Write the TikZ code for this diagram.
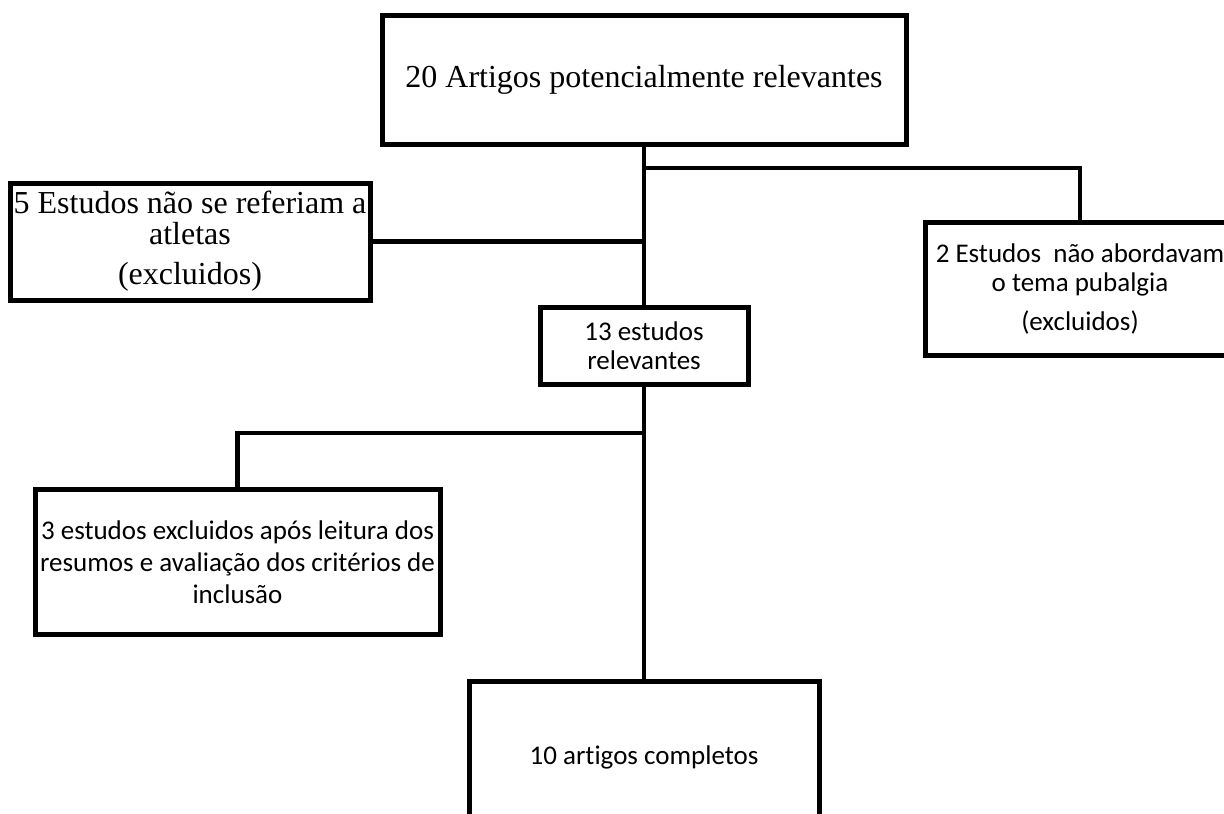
\documentclass[tikz,border=0pt]{standalone}
\usepackage{fontspec}
\setmainfont{Liberation Serif}
\newfontfamily\calibri[Ligatures=NoCommon]{Carlito}
\tikzset{
box/.style={draw, line width=5pt, rectangle, inner sep=2pt, align=center}, % every box of the diagram
timesbox/.style={box, font=\fontsize{32}{31}\selectfont}, % boxes set in Times
calbox/.style={box, font=\calibri\fontsize{27}{29}\selectfont}, % boxes set in Calibri
link/.style={line width=4.5pt}, % the plain connectors
}

\begin{document}
\begin{tikzpicture}[x=1pt,y=-1pt]
        \useasboundingbox (0,0) rectangle (1224,814);
        \clip (0,0) rectangle (1224,814);

        \node[timesbox, minimum width=524pt, minimum height=129pt] (potenciais) at (644,79.5) {20 Artigos potencialmente relevantes};
        \node[timesbox, minimum width=360pt, minimum height=117pt] (atletas) at (190,241.5) {5 Estudos não se referiam a\\ atletas\\[9pt] (excluidos)};
        \node[calbox, minimum width=310pt, minimum height=133pt] (pubalgia) at (1080,289) {2 Estudos\ \ não abordavam\\ o tema pubalgia\\[10pt] (excluidos)};
        \node[calbox, minimum width=208pt, minimum height=77pt] (relevantes) at (644,346) {13 estudos\\ relevantes};
        \node[calbox, font=\calibri\fontsize{27}{32}\selectfont, minimum width=405pt, minimum height=145pt] (criterios) at (237.5,562) {3 estudos excluidos após leitura dos\\ resumos e avaliação dos critérios de\\ inclusão};
        \node[calbox, minimum width=350pt, minimum height=152pt] (completos) at (644,757) {10 artigos completos};

        \coordinate (ramo1) at (644,168);
        \coordinate (ramo2) at (644,433);

        \draw[link] (potenciais) -- (relevantes);
        \draw[link] (relevantes) -- (completos);
        \draw[link] (ramo1) -| (pubalgia);
        \draw[link] (atletas) -- (atletas -| potenciais);
        \draw[link] (ramo2) -| (criterios);
\end{tikzpicture}
\end{document}
